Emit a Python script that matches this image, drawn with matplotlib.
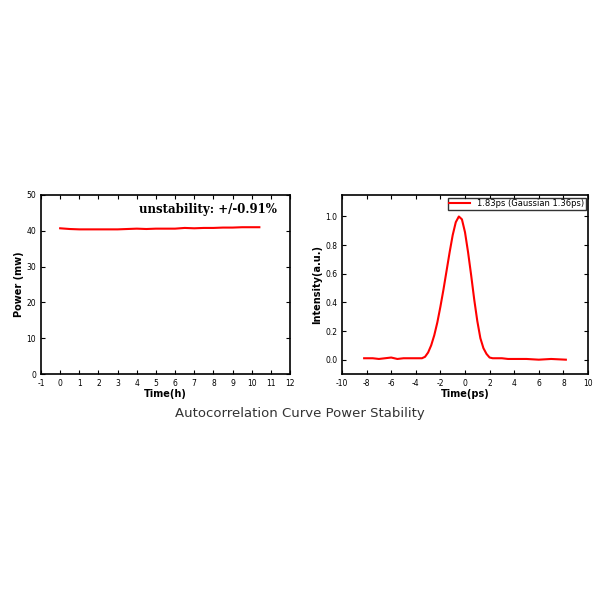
import matplotlib.pyplot as plt

plt.rcParams['axes.unicode_minus'] = False

# left panel: power over time
hours = [0.0, 0.5, 1.0, 1.5, 2.0, 2.5, 3.0, 3.5, 4.0, 4.5, 5.0, 5.5, 6.0, 6.5, 7.0, 7.5, 8.0, 8.5, 9.0, 9.5, 10.0, 10.4]
power = [40.7, 40.5, 40.4, 40.4, 40.4, 40.4, 40.4, 40.5, 40.6, 40.5, 40.6, 40.6, 40.6, 40.8, 40.7, 40.8, 40.8, 40.9, 40.9, 41.0, 41.0, 41.0]

# right panel: autocorrelation trace
delay = [-8.2, -7.5, -7.0, -6.5, -6.0, -5.5, -5.0, -4.5, -4.0, -3.5, -3.25, -3.0, -2.75, -2.5, -2.25, -2.0,
         -1.75, -1.5, -1.25, -1.0, -0.75, -0.5, -0.25, 0.0, 0.25, 0.5, 0.75, 1.0, 1.25, 1.5, 1.75, 2.0,
         2.25, 2.5, 3.0, 3.5, 4.0, 5.0, 6.0, 7.0, 8.2]
intensity = [0.01, 0.01, 0.005, 0.01, 0.015, 0.005, 0.01, 0.01, 0.01, 0.01, 0.02, 0.05, 0.10, 0.17, 0.26, 0.37,
             0.49, 0.62, 0.75, 0.87, 0.96, 1.0, 0.98, 0.89, 0.75, 0.59, 0.42, 0.27, 0.15, 0.08, 0.04, 0.015,
             0.01, 0.01, 0.01, 0.005, 0.005, 0.005, 0.0, 0.005, 0.0]

fig = plt.figure(figsize=(6, 6), dpi=100)
ax1 = fig.add_axes([41/600, 1-374/600, 249/600, 179/600])
ax2 = fig.add_axes([342/600, 1-374/600, 246/600, 179/600])

lab = dict(fontsize=7, fontweight='bold')
ax1.plot(hours, power, color='red', lw=1.5)
ax1.set_xlim(-1, 12)
ax1.set_ylim(0, 50)
ax1.set_xticks(range(-1, 13))
ax1.set_yticks(range(0, 51, 10))
ax1.set_xlabel('Time(h)', labelpad=1, **lab)
ax1.set_ylabel('Power (mw)', labelpad=2, **lab)
ax1.text(0.67, 0.9, 'unstability: +/-0.91%', transform=ax1.transAxes, ha='center',
         fontsize=8.5, fontweight='bold', family='DejaVu Serif')

ax2.plot(delay, intensity, color='red', lw=1.5, label='1.83ps (Gaussian 1.36ps)')
ax2.set_xlim(-10, 10)
ax2.set_ylim(-0.1, 1.15)
ax2.set_xticks(range(-10, 11, 2))
ax2.set_yticks([0.0, 0.2, 0.4, 0.6, 0.8, 1.0])
ax2.set_xlabel('Time(ps)', labelpad=1, **lab)
ax2.set_ylabel('Intensity(a.u.)', labelpad=2, **lab)
ax2.legend(loc='upper right', fontsize=6, frameon=True, fancybox=False, edgecolor='black',
           borderpad=0.2, handlelength=2.5, borderaxespad=0.3)

for ax in (ax1, ax2):
    ax.tick_params(direction='in', labelsize=5.5, length=3, top=True, right=True,
                   labeltop=False, labelright=False)
    for s in ax.spines.values():
        s.set_linewidth(1.2)

fig.text(0.5, 1-413/600, 'Autocorrelation Curve Power Stability', ha='center', va='center',
         fontsize=9.5, color='#333333')
fig.savefig('out.png', dpi=100)
